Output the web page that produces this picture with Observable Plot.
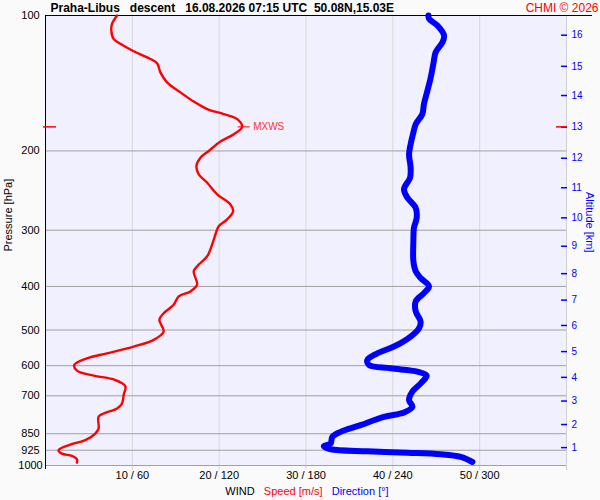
<!DOCTYPE html>
<html><head><meta charset="utf-8">
<script src="https://cdn.jsdelivr.net/npm/d3@7"></script>
<script src="https://cdn.jsdelivr.net/npm/@observablehq/plot@0.6"></script>
<style>
body{margin:0;background:#fafafa;font-family:"Liberation Sans",Arial,sans-serif}
#cap{height:18px;line-height:18px;font-size:11px;text-align:center;width:600px;padding-left:14px;box-sizing:border-box;white-space:pre}
</style></head><body><div id="chart"></div>
<div id="cap"><span style="color:#000">WIND</span>   <span style="color:#ff0000">Speed [m/s]</span>   <span style="color:#0000ff">Direction [°]</span></div>
<script>
// ---- data ----
const headerText = "Praha-Libus   descent   16.08.2026 07:15 UTC  50.08N,15.03E";
const creditText = "CHMI © 2026";
const pressureTicks = [100,200,300,400,500,600,700,850,925,1000];
const pressureGrid = [200,300,400,500,600,700,850,925,1000];
const speedTicks = [10,20,30,40,50];
const altKm = [16,15,14,13,12,11,10,9,8,7,6,5,4,3,2,1];
const altP = [110.6,129.7,150.6,177.1,207.6,241.4,281.6,325.7,374.7,429.0,488.5,558.3,637.0,719.1,810.9,912.5];

const speedP = [100,104.4,108,112.7,115.6,120.1,123.9,127.7,133.8,140.8,148.2,155.3,161.4,165.6,169.9,176.8,183.6,190.6,200,207,216,225.4,235.3,249.7,262.9,272.1,283.9,293.9,306.7,322.8,342.8,357.7,370.3,396.4,410.3,421,439.3,458.7,474.5,503.8,525.8,544.1,563.2,577.8,597.8,615.5,631.5,643.6,665.9,697.2,728,746.9,766.3,779.3,827.7,849.1,878.5,898.6,924.8,941,952.2,968.5,985.5];
const speed = [8.24,7.66,7.58,7.84,8.62,10.15,11.7,12.85,13.23,14.0,15.54,17.07,18.62,20.53,22.08,22.65,21.68,20.15,18.8,17.84,17.38,17.65,18.62,19.77,21.3,21.61,20.92,19.95,19.57,19.19,18.62,17.65,17.07,17.46,16.69,15.34,14.76,13.61,13.11,13.61,12.46,10.15,7.08,4.78,3.31,3.62,5.54,7.84,9.19,9.0,8.81,8.24,6.69,6.11,6.11,5.73,4.58,2.85,1.5,1.89,3.05,3.62,3.62];

const dirP = [100,101.7,105.3,110.8,114.7,120.7,128.1,137.3,147,157.3,165.6,174.4,183.6,193.2,203.4,217.9,229.3,243.4,254.1,267.5,281.6,296.5,317.4,351.7,370.3,383.2,399.9,413.9,431.9,454.5,478.6,495.3,516.9,544.1,563.2,582.6,597.8,608.2,618.7,631.5,656.9,685.5,715.5,740.4,762.4,779.4,813.4,841.9,863.7,894,906,920.1,929.6,936.4,944.1,957.2,982.1];
const direction = [264.6,265,270.8,275.4,274.3,269.6,268,266.2,263.9,261.5,260.4,255.8,253.9,252.3,251.2,252.3,251.9,247.7,250.1,255.8,256.5,254.6,254.2,254.2,255.8,259.2,265,261.5,255.8,255.8,259.2,258.1,252.3,240.8,229.3,222.4,223.5,238.5,257,263.4,259.3,253.5,251.2,253.5,247.7,233.9,217.7,203.9,198.2,197,192.3,197,222.4,250.1,273.1,286.9,295];

// ---- build tables ----
const xMax = 60;
const speedData = speed.map((s,i) => ({x: s, p: speedP[i]}));
const dirData = direction.map((d,i) => ({x: d / 6, p: dirP[i]})); // direction shares axis: 60 m/s = 360°
const iMax = d3.maxIndex(speed);
const mx = [{x: speed[iMax], p: speedP[iMax]}];
const altData = altKm.map((k,i) => ({k, p: altP[i]}));

const chart = Plot.plot({
  width: 600, height: 482,
  marginLeft: 45, marginRight: 34, marginTop: 15, marginBottom: 17,
  style: {background: "#fafafa", fontFamily: "'Liberation Sans', Arial, sans-serif", fontSize: "11px", overflow: "visible"},
  x: {domain: [0, xMax]},
  y: {type: "log", domain: [100, 1000], reverse: true},
  marks: [
    Plot.frame({fill: "#f0f0ff", stroke: "none"}),
    Plot.ruleX(speedTicks, {stroke: "#d8d8d8", insetBottom: -5}),
    Plot.ruleX([xMax], {stroke: "#d0d0d0", insetBottom: -5}),
    Plot.ruleY(pressureGrid, {stroke: "#a0a0a0"}),
    Plot.ruleX([0], {stroke: "black", insetBottom: -4}),
    Plot.ruleY([100], {stroke: "black", insetRight: -26}),
    Plot.axisY({ticks: pressureTicks, tickSize: 0, tickPadding: 15, textAnchor: "middle", tickFormat: d => String(d), label: null, fill: "#000"}),
    Plot.axisX({ticks: speedTicks, tickSize: 0, tickPadding: 6, tickFormat: d => `${d} / ${d*6}`, label: null, fill: "#000"}),
    Plot.text(["Pressure [hPa]"], {frameAnchor: "left", dx: -37, dy: 11, rotate: -90, fill: "#000", fontSize: 11}),
    Plot.text(["Altitude [km]"], {frameAnchor: "right", dx: 23, dy: 12, rotate: 90, fill: "#0000ff", fontSize: 11}),
    Plot.text([headerText], {frameAnchor: "top-left", dx: 5, dy: -7, lineAnchor: "middle", textAnchor: "start", fontWeight: "bold", fontSize: 12, fill: "#000"}),
    Plot.text([creditText], {frameAnchor: "top-right", dx: 32, dy: -7, lineAnchor: "middle", textAnchor: "end", fontSize: 12, fill: "#ff0000"}),
    // altitude ticks
    Plot.ruleY(altData, {y: "p", x1: () => xMax, x2: () => xMax, insetLeft: -5, insetRight: -1, stroke: "#0000ff", strokeWidth: 1.5}),
    Plot.text(altData, {y: "p", text: d => String(d.k), frameAnchor: "right", dx: 5, textAnchor: "start", fill: "#0000ff", fontSize: 10}),
    // MXWS markers
    Plot.ruleY(mx, {y: "p", x1: () => 0, x2: () => 0, insetLeft: -2, insetRight: -11, stroke: "#ff0000", strokeWidth: 1.5}),
    Plot.ruleY(mx, {y: "p", x1: () => xMax, x2: () => xMax, insetLeft: -10, insetRight: -1, stroke: "#ff0000", strokeWidth: 1.5}),
    Plot.ruleY(mx, {y: "p", x1: "x", x2: "x", insetLeft: -4, insetRight: -8, stroke: "#ff0000", strokeWidth: 1}),
    Plot.text(mx, {x: "x", y: "p", text: () => "MXWS", dx: 11, textAnchor: "start", fill: "#ff3333", fontSize: 10}),
    // profiles
    Plot.line(dirData, {x: "x", y: "p", stroke: "#0000ff", strokeWidth: 6, curve: "catmull-rom", strokeLinecap: "round", strokeLinejoin: "round"}),
    Plot.line(speedData, {x: "x", y: "p", stroke: "#ff0000", strokeWidth: 2.4, curve: "catmull-rom"})
  ]
});
document.getElementById("chart").appendChild(chart);
</script></body></html>
